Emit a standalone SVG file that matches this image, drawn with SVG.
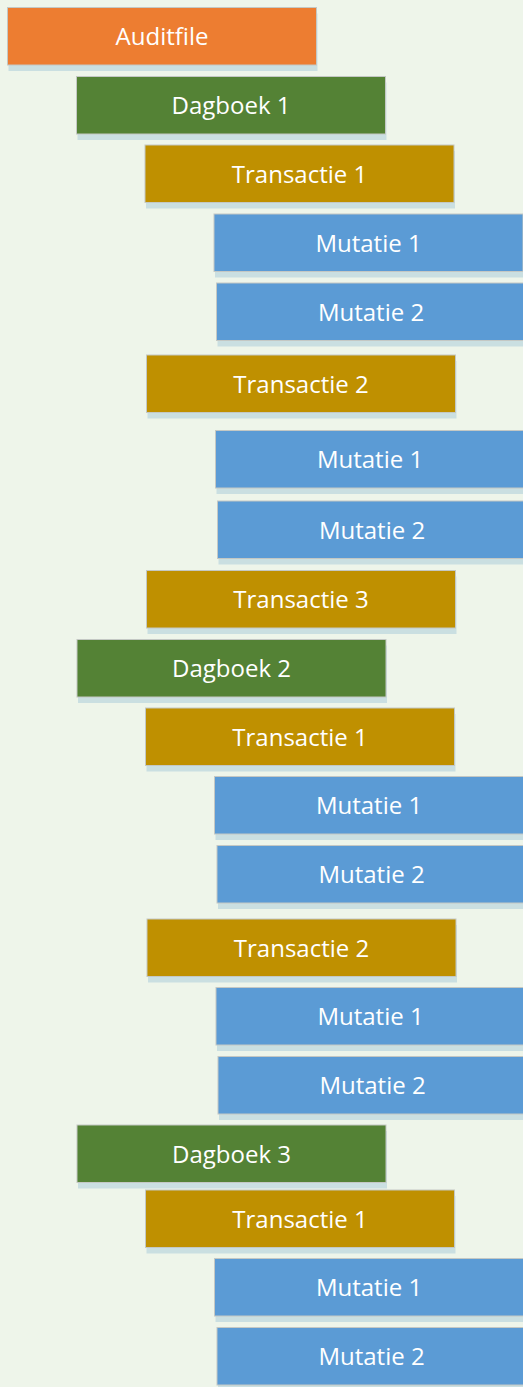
<svg xmlns="http://www.w3.org/2000/svg" width="523" height="1387" viewBox="0 0 523 1387">
<style>
.sh{fill:#cadfe1}
.bx{stroke:#c4c8c4;stroke-width:1}
.a{fill:#ED7D31}.d{fill:#548235}.t{fill:#BF9000}.m{fill:#5B9BD5}
.tx{font-family:"Open Sans","Noto Sans",sans-serif;font-size:24px;fill:#ffffff;text-anchor:middle}
</style>
<defs>
<g id="box"><rect class="sh" x="1" y="6" width="309" height="57.5"/></g>
</defs>
<rect width="523" height="1387" fill="#EEF5EA"/>
<g id="connectors"/>
<g id="n-auditfile" transform="translate(7.5,7.5)"><use href="#box"/><rect class="bx a" width="309" height="57.5"/><text class="tx" x="154.5" y="37.5">Auditfile</text></g>
<g id="n-dagboek1" transform="translate(76.5,76.5)"><use href="#box"/><rect class="bx d" width="309" height="57.5"/><text class="tx" x="154.5" y="37.5">Dagboek 1</text></g>
<g id="n-d1-t1" transform="translate(145,145)"><use href="#box"/><rect class="bx t" width="309" height="57.5"/><text class="tx" x="154.5" y="37.5">Transactie 1</text></g>
<g id="n-d1-t1-m1" transform="translate(214,214)"><use href="#box"/><rect class="bx m" width="309" height="57.5"/><text class="tx" x="154.5" y="37.5">Mutatie 1</text></g>
<g id="n-d1-t1-m2" transform="translate(216.5,283)"><use href="#box"/><rect class="bx m" width="309" height="57.5"/><text class="tx" x="154.5" y="37.5">Mutatie 2</text></g>
<g id="n-d1-t2" transform="translate(146.5,355)"><use href="#box"/><rect class="bx t" width="309" height="57.5"/><text class="tx" x="154.5" y="37.5">Transactie 2</text></g>
<g id="n-d1-t2-m1" transform="translate(215.5,430.5)"><use href="#box"/><rect class="bx m" width="309" height="57.5"/><text class="tx" x="154.5" y="37.5">Mutatie 1</text></g>
<g id="n-d1-t2-m2" transform="translate(217.5,501)"><use href="#box"/><rect class="bx m" width="309" height="57.5"/><text class="tx" x="154.5" y="37.5">Mutatie 2</text></g>
<g id="n-d1-t3" transform="translate(146.5,570.5)"><use href="#box"/><rect class="bx t" width="309" height="57.5"/><text class="tx" x="154.5" y="37.5">Transactie 3</text></g>
<g id="n-dagboek2" transform="translate(77,639.5)"><use href="#box"/><rect class="bx d" width="309" height="57.5"/><text class="tx" x="154.5" y="37.5">Dagboek 2</text></g>
<g id="n-d2-t1" transform="translate(145.5,708)"><use href="#box"/><rect class="bx t" width="309" height="57.5"/><text class="tx" x="154.5" y="37.5">Transactie 1</text></g>
<g id="n-d2-t1-m1" transform="translate(214.5,776.5)"><use href="#box"/><rect class="bx m" width="309" height="57.5"/><text class="tx" x="154.5" y="37.5">Mutatie 1</text></g>
<g id="n-d2-t1-m2" transform="translate(217,845.5)"><use href="#box"/><rect class="bx m" width="309" height="57.5"/><text class="tx" x="154.5" y="37.5">Mutatie 2</text></g>
<g id="n-d2-t2" transform="translate(147,919)"><use href="#box"/><rect class="bx t" width="309" height="57.5"/><text class="tx" x="154.5" y="37.5">Transactie 2</text></g>
<g id="n-d2-t2-m1" transform="translate(216,987.5)"><use href="#box"/><rect class="bx m" width="309" height="57.5"/><text class="tx" x="154.5" y="37.5">Mutatie 1</text></g>
<g id="n-d2-t2-m2" transform="translate(218,1056.5)"><use href="#box"/><rect class="bx m" width="309" height="57.5"/><text class="tx" x="154.5" y="37.5">Mutatie 2</text></g>
<g id="n-dagboek3" transform="translate(77,1125)"><use href="#box"/><rect class="bx d" width="309" height="57.5"/><text class="tx" x="154.5" y="37.5">Dagboek 3</text></g>
<g id="n-d3-t1" transform="translate(145.5,1190)"><use href="#box"/><rect class="bx t" width="309" height="57.5"/><text class="tx" x="154.5" y="37.5">Transactie 1</text></g>
<g id="n-d3-t1-m1" transform="translate(214.5,1258.5)"><use href="#box"/><rect class="bx m" width="309" height="57.5"/><text class="tx" x="154.5" y="37.5">Mutatie 1</text></g>
<g id="n-d3-t1-m2" transform="translate(217,1327.5)"><use href="#box"/><rect class="bx m" width="309" height="57.5"/><text class="tx" x="154.5" y="37.5">Mutatie 2</text></g>
</svg>
